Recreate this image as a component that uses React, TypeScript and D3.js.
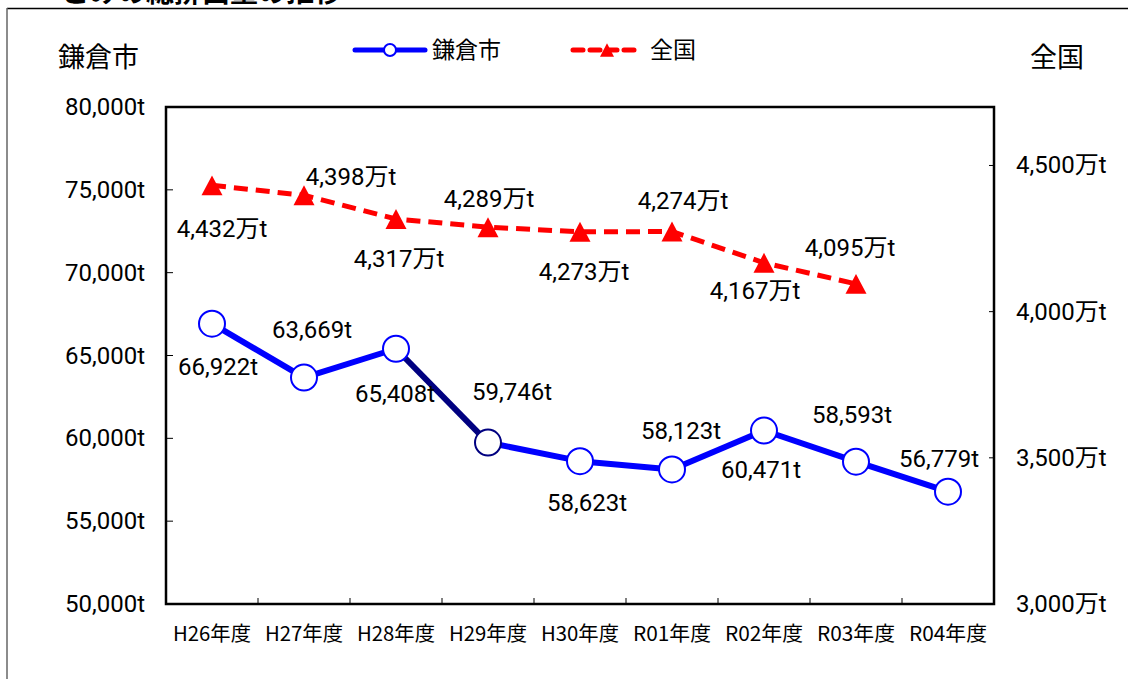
import React from "react";
import * as d3 from "d3";

const categories = ["H26年度", "H27年度", "H28年度", "H29年度", "H30年度", "R01年度", "R02年度", "R03年度", "R04年度"];
const kamakura = [66922, 63669, 65408, 59746, 58623, 58123, 60471, 58593, 56779];
const national = [4432, 4398, 4317, 4289, 4273, 4274, 4167, 4095];
const leftTicks = [50000, 55000, 60000, 65000, 70000, 75000, 80000];
const rightTicks = [3000, 3500, 4000, 4500];

// label offsets (dx, dy) relative to each point, tuned to the original layout
const kOffsets: [number, number][] = [[6, 51], [8, -40], [-1, 53], [24, -43], [7, 50], [9, -30], [-3, 47], [-4, -39], [-9, -25]];
const nOffsets: [number, number][] = [[10, 52], [47, -10], [3, 48], [1, -20], [4, 48], [11, -23], [-9, 36], [-6, -28]];

const W = 1128, H = 679;
const plot = { left: 166, right: 994, top: 107, bottom: 604 };
const numFont = "Roboto, 'Noto Sans CJK JP', sans-serif";
const jpFont = "'Noto Sans CJK JP', sans-serif";

export default function App() {
  const x = d3.scaleBand<string>().domain(categories).range([plot.left, plot.right]);
  const cx = (c: string) => (x(c) as number) + x.bandwidth() / 2;
  const yL = d3.scaleLinear().domain([50000, 80000]).range([plot.bottom, plot.top]);
  const yR = d3.scaleLinear().domain([3000, 4700]).range([plot.bottom, plot.top]);
  const fmt = d3.format(",");

  const kPts = kamakura.map((v, i) => [cx(categories[i]), yL(v)] as [number, number]);
  const nPts = national.map((v, i) => [cx(categories[i]), yR(v)] as [number, number]);
  const line = d3.line();

  const tri = (px: number, py: number, s: number) => {
    const h = s * 0.95;
    return `M${px},${py - h / 2}L${px + s / 2},${py + h / 2}L${px - s / 2},${py + h / 2}Z`;
  };

  return (
    <svg width={W} height={H} style={{ position: "absolute", left: 0, top: 0, background: "#fff" }}>
      {/* cut-off title and outer box */}
      <text x={62} y={2} fontSize={28} fontWeight="bold" fontFamily={jpFont} fill="#000">ごみの総排出量の推移</text>
      <line x1={7} x2={W} y1={8.5} y2={8.5} stroke="#000" strokeWidth={1.5} />
      <line x1={7} x2={7} y1={8} y2={H} stroke="#666" strokeWidth={1.5} />

      {/* axis titles */}
      <text x={58} y={67} fontSize={27} fontFamily={jpFont}>鎌倉市</text>
      <text x={1030} y={67} fontSize={27} fontFamily={jpFont}>全国</text>

      {/* legend */}
      <line x1={355} x2={425} y1={50} y2={50} stroke="#0000ff" strokeWidth={5} strokeLinecap="round" />
      <circle cx={390} cy={50} r={6} fill="#fff" stroke="#0000ff" strokeWidth={2} />
      <text x={432} y={58} fontSize={23} fontFamily={jpFont}>鎌倉市</text>
      <line x1={573} x2={641} y1={50} y2={50} stroke="#ff0000" strokeWidth={5} strokeDasharray="10,7" strokeLinecap="round" />
      <path d={tri(607, 50, 14)} fill="#ff0000" />
      <text x={650} y={58} fontSize={23} fontFamily={jpFont}>全国</text>

      {/* frame */}
      <rect x={plot.left} y={plot.top} width={plot.right - plot.left} height={plot.bottom - plot.top} fill="none" stroke="#000" strokeWidth={2.5} />

      {/* left axis */}
      {leftTicks.map((t) => (
        <g key={t}>
          {t > 50000 && t < 80000 && <line x1={plot.left} x2={plot.left + 7} y1={yL(t)} y2={yL(t)} stroke="#000" strokeWidth={1} />}
          <text x={145} y={yL(t) + 8} textAnchor="end" fontSize={24} fontFamily={numFont}>{fmt(t)}t</text>
        </g>
      ))}

      {/* right axis */}
      {rightTicks.map((t) => (
        <g key={t}>
          {t > 3000 && <line x1={plot.right - 5} x2={plot.right} y1={yR(t)} y2={yR(t)} stroke="#000" strokeWidth={1} />}
          <text x={1016} y={yR(t) + 8} fontSize={24} fontFamily={numFont}>{fmt(t)}万t</text>
        </g>
      ))}

      {/* bottom axis */}
      {categories.map((c, i) => (
        <g key={c}>
          {i > 0 && <line x1={x(c)} x2={x(c)} y1={plot.bottom} y2={plot.bottom - 6} stroke="#000" strokeWidth={1} />}
          <text x={cx(c)} y={641} textAnchor="middle" fontSize={20} fontFamily={jpFont} textLength={78} lengthAdjust="spacingAndGlyphs">{c}</text>
        </g>
      ))}

      {/* national dashed line */}
      <path d={line(nPts) || ""} fill="none" stroke="#ff0000" strokeWidth={5} strokeDasharray="14,8" />
      {nPts.map((p, i) => (
        <path key={i} d={tri(p[0], p[1], 21)} fill="#ff0000" />
      ))}

      {/* kamakura line, segment H28->H29 drawn in navy as in the original */}
      {kPts.slice(1).map((p, i) => (
        <path key={i} d={line([kPts[i], p]) || ""} fill="none" stroke={i === 2 ? "#000080" : "#0000ff"} strokeWidth={6} />
      ))}
      {kPts.map((p, i) => (
        <circle key={i} cx={p[0]} cy={p[1]} r={13} fill="#fff" stroke={i === 3 ? "#000080" : "#0000ff"} strokeWidth={2} />
      ))}

      {/* data labels */}
      {kPts.map((p, i) => (
        <text key={i} x={p[0] + kOffsets[i][0]} y={p[1] + kOffsets[i][1]} textAnchor="middle" fontSize={24} fontFamily={numFont}>{fmt(kamakura[i])}t</text>
      ))}
      {nPts.map((p, i) => (
        <text key={i} x={p[0] + nOffsets[i][0]} y={p[1] + nOffsets[i][1]} textAnchor="middle" fontSize={24} fontFamily={numFont}>{fmt(national[i])}万t</text>
      ))}
    </svg>
  );
}
